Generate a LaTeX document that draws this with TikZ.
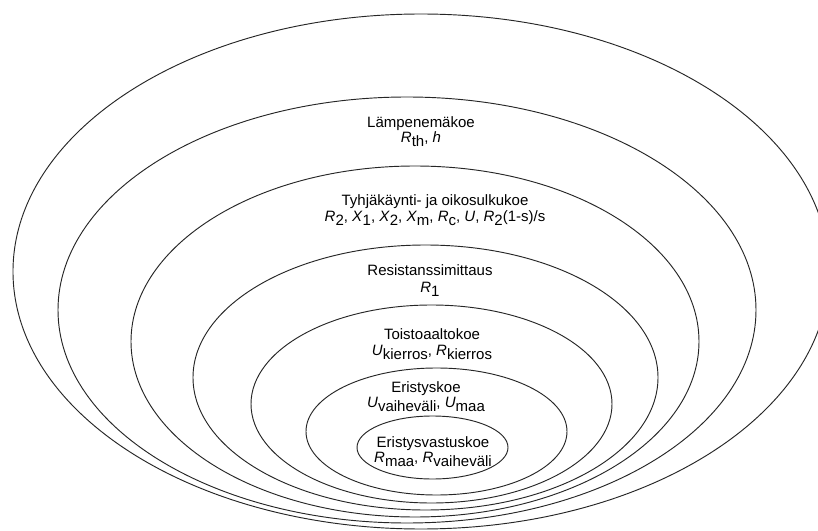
\documentclass[tikz,border=0pt]{standalone}
\usepackage{fontspec}
\setmainfont{Liberation Sans}
\newcommand\lsub[1]{\raisebox{-3pt}{#1}}
\begin{document}
\begin{tikzpicture}[x=0.75pt,y=-0.75pt,
  ring/.style={draw=black!85,line width=0.7pt},
  lbl/.style={anchor=base,inner sep=0pt,font=\fontsize{11.25pt}{12pt}\selectfont}]
\useasboundingbox (0,0) rectangle (818,531);
\clip (0,0) rectangle (818,531);
\fill[white] (0,0) rectangle (818,531);
% rings
\draw[ring] (421,271.5) ellipse [x radius=408, y radius=257.5];
\draw[ring] (407,310) ellipse [x radius=349, y radius=213];
\draw[ring] (415,341.5) ellipse [x radius=284, y radius=175.5];
\draw[ring] (425.5,377.5) ellipse [x radius=232.5, y radius=132.5];
\draw[ring] (431.5,404) ellipse [x radius=180.5, y radius=99];
\draw[ring] (436.5,431.5) ellipse [x radius=130.5, y radius=63.5];
\draw[ring] (432.5,447.5) ellipse [x radius=75.5, y radius=31.5];
% labels
\node[lbl] (l1a) at (421,128) {Lämpenemäkoe};
\node[lbl] (l1b) at (421,143) {\textit{R}\lsub{th}, \textit{h}};
\node[lbl] (l2a) at (435,206) {Tyhjäkäynti- ja oikosulkukoe};
\node[lbl] (l2b) at (435,222) {\textit{R}\lsub{2}, \textit{X}\lsub{1}, \textit{X}\lsub{2}, \textit{X}\lsub{m}, \textit{R}\lsub{c}, \textit{U}, \textit{R}\lsub{2}(1-s)/s};
\node[lbl] (l3a) at (430,276) {Resistanssimittaus};
\node[lbl] (l3b) at (430,292) {\textit{R}\lsub{1}};
\node[lbl] (l4a) at (432,339) {Toistoaaltokoe};
\node[lbl] (l4b) at (432,355) {\textit{U}\lsub{kierros}, \textit{R}\lsub{kierros}};
\node[lbl] (l5a) at (426,392) {Eristyskoe};
\node[lbl] (l5b) at (426,407) {\textit{U}\lsub{vaiheväli}, \textit{U}\lsub{maa}};
\node[lbl] (l6a) at (433,447) {Eristysvastuskoe};
\node[lbl] (l6b) at (433,462) {\textit{R}\lsub{maa}, \textit{R}\lsub{vaiheväli}};
\end{tikzpicture}
\end{document}
